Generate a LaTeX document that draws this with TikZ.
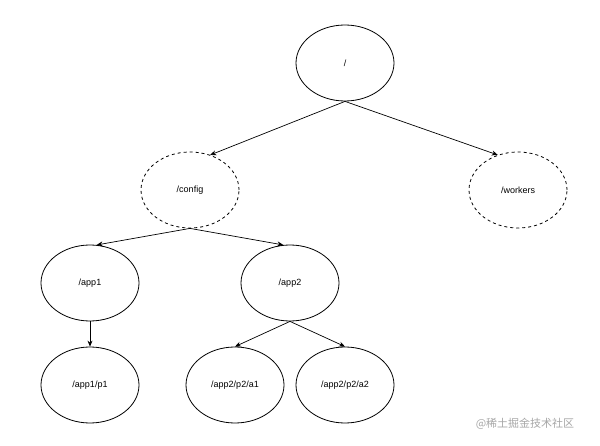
\documentclass[tikz,border=0pt]{standalone}
\usepackage{fontspec}
\setmainfont{Liberation Sans}
\newfontfamily\cjk{Noto Sans CJK SC}
\usetikzlibrary{shapes.geometric,arrows.meta}
\begin{document}
\begin{tikzpicture}[x=1pt,y=-1pt,
 nd/.style={draw,ellipse,minimum width=98pt,minimum height=76pt,font=\fontsize{9}{10}\selectfont,line width=0.8pt},
 dnd/.style={nd,dashed},
 ar/.style={-{Stealth[length=6pt,width=5pt]},line width=0.7pt}]
\useasboundingbox (0,0) rectangle (600,446);
\node[nd] (r) at (345,63) {/};
\node[dnd] (c) at (190,190) {/config};
\node[dnd] (w) at (518,190) {/workers};
\node[nd] (a1) at (90,283) {/app1};
\node[nd] (a2) at (290,283) {/app2};
\node[nd] (p1) at (90,385) {/app1/p1};
\node[nd] (q1) at (235,385) {/app2/p2/a1};
\node[nd] (q2) at (345,385) {/app2/p2/a2};
\draw[ar] (r.south) -- (c.60);
\draw[ar] (r.south) -- (w.120);
\draw[ar] (c.south) -- (a1.80);
\draw[ar] (c.south) -- (a2.100);
\draw[ar] (a1.south) -- (p1.north);
\draw[ar] (a2.south) -- (q1.north);
\draw[ar] (a2.south) -- (q2.north);
\node[text=black!35,font=\cjk\fontsize{11}{12}\selectfont] (wm) at (525,424) {@稀土掘金技术社区};
\end{tikzpicture}
\end{document}
